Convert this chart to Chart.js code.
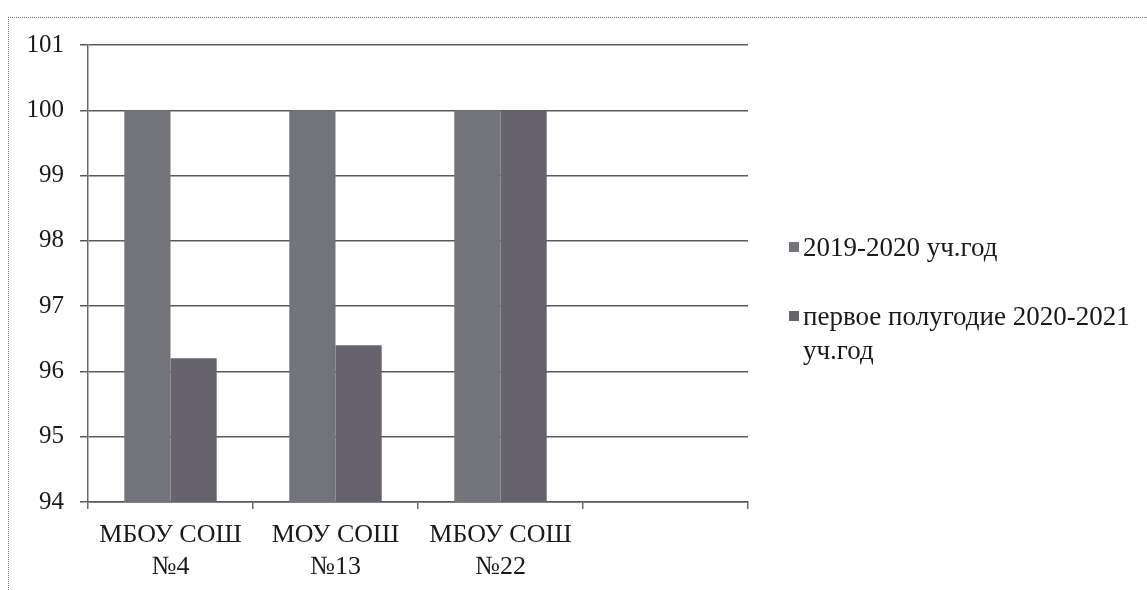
<!DOCTYPE html>
<html>
<head>
<meta charset="utf-8">
<script src="https://cdn.jsdelivr.net/npm/chart.js@4"></script>
<style>
  html, body { margin: 0; padding: 0; background: #fff; }
  body { width: 1147px; height: 590px; position: relative; overflow: hidden; font-family: "Liberation Serif", "Times New Roman", serif; }
  #frame { position: absolute; left: 8px; top: 17px; width: 1200px; height: 650px; border-top: 1.5px dotted #777; border-left: 1.5px dotted #777; }
  #wrap { position: absolute; left: 0; top: 0; width: 1147px; height: 590px; }
  #legend { position: absolute; left: 789px; top: 230px; width: 350px; color: #1a1a1a; font-size: 27px; line-height: 34px; }
  .item { position: relative; padding-left: 14px; margin-bottom: 35px; }
  .sw { position: absolute; left: 0; top: 12px; width: 10px; height: 10px; }
</style>
</head>
<body>
<div id="frame"></div>
<div id="wrap"><canvas id="resultChart"></canvas></div>
<div id="legend"></div>
<script>
// Данные диаграммы
const schools = [['МБОУ СОШ', '№4'], ['МОУ СОШ', '№13'], ['МБОУ СОШ', '№22'], ''];
const year2019 = [100, 100, 100];
const half2020 = [96.2, 96.4, 100];
const seriesNames = ['2019-2020 уч.год', 'первое полугодие 2020-2021 уч.год'];
const yTicks = [94, 95, 96, 97, 98, 99, 100, 101];

const serif = "'Liberation Serif', 'Times New Roman', serif";

document.addEventListener("DOMContentLoaded", function() {
    const colors = ['#727479', '#67636d'];
    const ctx = document.getElementById('resultChart');
    const chart = new Chart(ctx, {
        type: 'bar',
        data: {
            labels: schools,
            datasets: [{
                label: seriesNames[0],
                data: year2019,
                backgroundColor: colors[0],
                barPercentage: 1,
                categoryPercentage: 0.56
            }, {
                label: seriesNames[1],
                data: half2020,
                backgroundColor: colors[1],
                barPercentage: 1,
                categoryPercentage: 0.56
            }]
        },
        options: {
            responsive: true,
            maintainAspectRatio: false,
            animation: false,
            layout: { padding: { left: 8, right: 399, top: 45, bottom: 10 } },
            plugins: {
                legend: { display: false },
                tooltip: { enabled: false }
            },
            scales: {
                y: {
                    min: yTicks[0],
                    max: yTicks[yTicks.length - 1],
                    afterFit: function(scale) { scale.width = 80; },
                    afterBuildTicks: function(scale) {
                        scale.ticks = yTicks.map(v => ({ value: v }));
                    },
                    ticks: {
                        color: '#1a1a1a',
                        padding: 16,
                        font: { family: serif, size: 25 }
                    },
                    grid: { color: '#5a5a5a', lineWidth: 1.5, tickLength: 8 },
                    border: { color: '#6a6a6a', width: 1.5 }
                },
                x: {
                    afterFit: function(scale) { scale.height = 78; },
                    ticks: {
                        color: '#1a1a1a',
                        padding: 10,
                        maxRotation: 0,
                        font: { family: serif, size: 26, lineHeight: 1.23 }
                    },
                    grid: { drawOnChartArea: false, drawTicks: true, tickLength: 7, color: '#6a6a6a', lineWidth: 1.5 },
                    border: { color: '#5a5a5a', width: 1.5 }
                }
            }
        }
    });

    // Легенда справа
    const legend = document.getElementById('legend');
    chart.data.datasets.forEach(function(ds) {
        const item = document.createElement('div');
        item.className = 'item';
        item.innerHTML = '<span class="sw" style="background:' + ds.backgroundColor + '"></span>' + ds.label;
        legend.appendChild(item);
    });
});
</script>
</body>
</html>
